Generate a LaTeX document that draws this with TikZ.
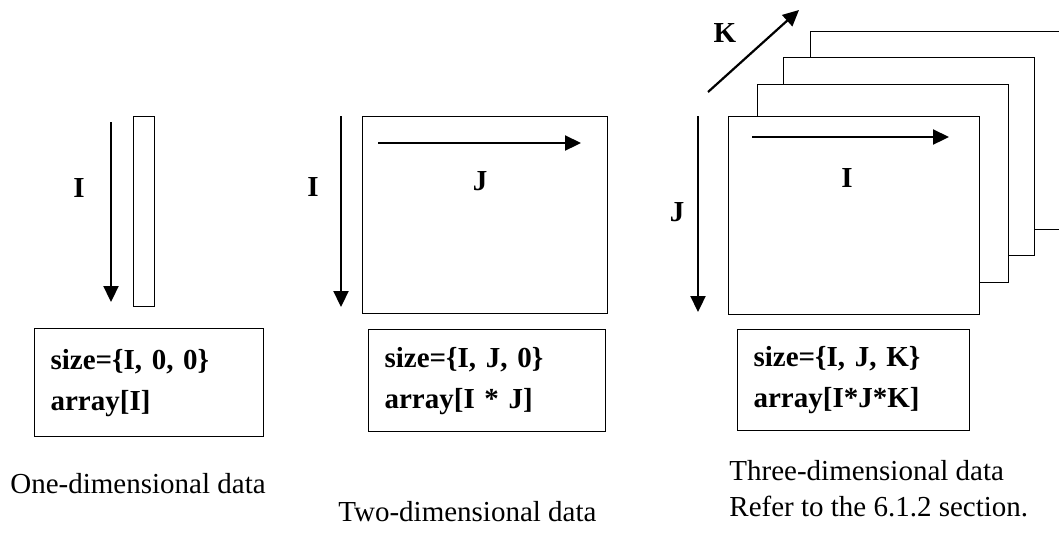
\documentclass[tikz,border=0pt]{standalone}
\usepackage{fontspec}
\setmainfont{Liberation Serif}
\usetikzlibrary{arrows.meta,positioning}

\begin{document}
\begin{tikzpicture}[
    x=0.5pt, y=-0.5pt,
    every node/.style={font=\fontsize{14.5}{18}\selectfont},
    frame/.style={draw, line width=0.6pt, fill=white, anchor=north west, inner sep=0pt},
    dimarrow/.style={line width=1.1pt, -{Triangle[length=8pt,width=7.5pt]}},
    dimlabel/.style={font=\fontsize{14.5}{18}\selectfont\bfseries},
    infobox/.style={draw, line width=0.6pt, anchor=north west, align=left, inner xsep=8pt,
        font=\fontsize{14.5}{20.5}\selectfont\bfseries},
    caption/.style={anchor=west, align=left, inner xsep=0pt}
]
\useasboundingbox (0,0) rectangle (1059,532);

% 一维
\node[frame, minimum width=10.5pt, minimum height=95pt] (bar) at (133,116) {};
\coordinate (oneA) at (111,122);
\coordinate (oneB) at (111,302);
\draw[dimarrow] (oneA) -- (oneB);
\node[dimlabel] (oneI) at (79,188) {I};
\node[infobox, text width=98.5pt, minimum height=54pt] (box1) at (34,328) {size=\{I, 0, 0\}\\array[I]};
\node[caption] (cap1) at (10,484) {One-dimensional data};

% 二维
\node[frame, minimum width=122.5pt, minimum height=98.5pt] (plane) at (362,116) {};
\coordinate (twoA) at (341,116);
\coordinate (twoB) at (341,307);
\coordinate (twoC) at (378,143);
\coordinate (twoD) at (581,143);
\draw[dimarrow] (twoA) -- (twoB);
\draw[dimarrow] (twoC) -- (twoD);
\node[dimlabel] (twoI) at (313,187) {I};
\node[dimlabel] (twoJ) at (480,181) {J};
\node[infobox, text width=102.5pt, minimum height=51pt] (box2) at (368,329) {size=\{I, J, 0\}\\array[I * J]};
\node[caption] (cap2) at (338,512) {Two-dimensional data};

% 三维
\foreach \dx/\dy [count=\n] in {82/85, 55/59, 29/32}
    \node[frame, minimum width=125.5pt, minimum height=99pt] (layer\n) at (728+\dx,116-\dy) {};
\node[frame, minimum width=125.5pt, minimum height=99pt] (cube) at (728,116) {};
\coordinate (thrA) at (698,116);
\coordinate (thrB) at (698,312);
\coordinate (thrC) at (752,137);
\coordinate (thrD) at (949,137);
\coordinate (thrE) at (708,92);
\coordinate (thrF) at (799,10);
\draw[dimarrow] (thrA) -- (thrB);
\draw[dimarrow] (thrC) -- (thrD);
\draw[dimarrow] (thrE) -- (thrF);
\node[dimlabel] (thrJ) at (677,212) {J};
\node[dimlabel] (thrI) at (847,178) {I};
\node[dimlabel] (thrK) at (725,33) {K};
\node[infobox, text width=100pt, minimum height=50.5pt] (box3) at (737,329) {size=\{I, J, K\}\\array[I*J*K]};
\node[caption] (cap3) at (729,489) {Three-dimensional data\\Refer to the 6.1.2 section.};

\end{tikzpicture}
\end{document}
